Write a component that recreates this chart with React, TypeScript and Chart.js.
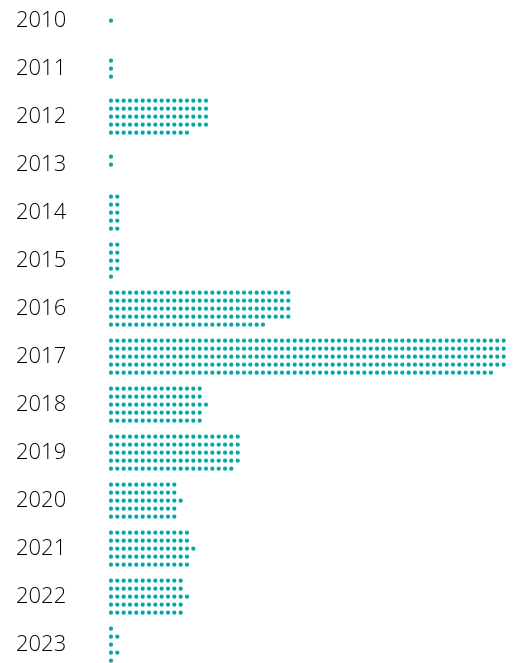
import React, { useEffect, useRef } from "react";
import { Chart, registerables } from "chart.js";

Chart.register(...registerables);

const years = ["2010", "2011", "2012", "2013", "2014", "2015", "2016", "2017", "2018", "2019", "2020", "2021", "2022", "2023"];
// dots per row (5 rows per year, top to bottom)
const row1 = [0, 0, 16, 0, 2, 2, 29, 63, 15, 21, 11, 13, 12, 1];
const row2 = [0, 1, 16, 1, 2, 2, 29, 63, 15, 21, 11, 13, 12, 2];
const row3 = [1, 1, 16, 1, 2, 2, 29, 63, 16, 21, 12, 14, 13, 1];
const row4 = [0, 1, 16, 0, 2, 2, 29, 63, 15, 21, 11, 13, 12, 2];
const row5 = [0, 0, 13, 0, 2, 1, 25, 61, 15, 20, 11, 13, 12, 1];

const rows = [row1, row2, row3, row4, row5];
const TEAL = "#00a9a6";

export default function App() {
  const ref = useRef<HTMLCanvasElement | null>(null);

  useEffect(() => {
    if (!ref.current) return;
    const pts: { x: number; y: number }[] = [];
    years.forEach((_, i) => {
      rows.forEach((row, r) => {
        for (let c = 0; c < row[i]; c++) {
          pts.push({ x: c, y: i + (r - 2) / 6 });
        }
      });
    });
    const chart = new Chart(ref.current, {
      type: "scatter",
      data: {
        datasets: [
          {
            data: pts,
            backgroundColor: TEAL,
            borderWidth: 0,
            pointRadius: 2.1,
            pointHoverRadius: 2.1,
          },
        ],
      },
      options: {
        animation: false,
        responsive: false,
        devicePixelRatio: 1,
        events: [],
        layout: { autoPadding: false, padding: { left: 16, right: 0, top: 0, bottom: 0 } },
        plugins: { legend: { display: false }, tooltip: { enabled: false } },
        scales: {
          x: {
            type: "linear",
            display: false,
            min: -1.737,
            max: 63.79,
          },
          y: {
            type: "linear",
            reverse: true,
            min: -0.431,
            max: 13.381,
            grid: { display: false },
            border: { display: false },
            afterFit: (s: any) => {
              s.width = 84;
              s.paddingTop = 0;
              s.paddingBottom = 0;
            },
            afterBuildTicks: (s: any) => {
              s.ticks = years.map((_, i) => ({ value: i }));
            },
            ticks: {
              crossAlign: "far",
              padding: 0,
              color: "#000000",
              font: { family: "'Open Sans', 'Noto Sans', sans-serif", size: 22, weight: 300 },
              callback: (v: any) => years[Number(v)] ?? "",
            },
          },
        },
      },
    });
    return () => chart.destroy();
  }, []);

  return (
    <div style={{ position: "fixed", left: 0, top: 0, width: 515, height: 663, background: "#fff" }}>
      <canvas ref={ref} width={515} height={663} style={{ display: "block" }} />
    </div>
  );
}
